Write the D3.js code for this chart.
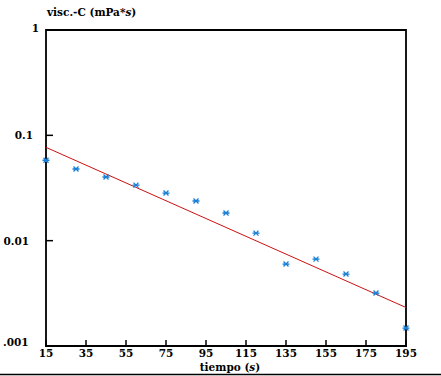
<!DOCTYPE html>
<html><head><meta charset="utf-8">
<script src="https://cdn.jsdelivr.net/npm/d3@7"></script>
<style>body{margin:0;background:#fff}svg{display:block}</style>
</head><body>
<script>
const times = [15,30,45,60,75,90,105,120,135,150,165,180,195];
const visc = [0.058,0.0479,0.0402,0.0337,0.0283,0.0238,0.0183,0.0118,0.0060,0.00668,0.00482,0.00318,0.00148];
const fitX = [15,195];
const fitY = [0.0769,0.00232];
const xTicks = [15,35,55,75,95,115,135,155,175,195];
const yTicks = [1,0.1,0.01,0.001];
const yTickLabels = ["1","0.1","0.01",".001"];

const W=441,H=376;
const FONT="'DejaVu Serif',serif";
const svg=d3.select("body").append("svg").attr("width",W).attr("height",H)
  .attr("font-family",FONT).attr("font-weight","bold");
const x=d3.scaleLinear().domain([15,195]).range([46,406]);
const y=d3.scaleLog().domain([0.001,1]).range([346,30]);

// frame
svg.append("path").attr("d",`M${x(15)},${y(0.001)}V${y(1)}H${x(195)}V${y(0.001)}`)
  .attr("fill","none").attr("stroke","#000").attr("stroke-width",1.8);
svg.append("line").attr("x1",x(15)-1).attr("x2",x(195)+1).attr("y1",y(0.001)).attr("y2",y(0.001)).attr("stroke","#000").attr("stroke-width",1.8);
svg.append("line").attr("x1",0).attr("x2",W).attr("y1",374.5).attr("y2",374.5).attr("stroke","#000").attr("stroke-width",1.5);

// x ticks
const xa=svg.append("g");
xTicks.forEach(t=>{
  xa.append("line").attr("x1",x(t)).attr("x2",x(t)).attr("y1",y(0.001)).attr("y2",y(0.001)-6).attr("stroke","#000").attr("stroke-width",1.5);
  xa.append("text").attr("x",x(t)).attr("y",357).attr("text-anchor","middle").attr("font-size",10.5).text(t);
});
// y ticks
const yLabPos=[39,33,29,3];
const yLabAnchor=["end","end","end","start"];
yTicks.forEach((t,i)=>{
  if(i>0&&i<yTicks.length-1) svg.append("line").attr("x1",x(15)).attr("x2",x(15)+7).attr("y1",y(t)).attr("y2",y(t)).attr("stroke","#000").attr("stroke-width",1.5);
  svg.append("text").attr("x",yLabPos[i]).attr("y",y(t)+(i===0?2:(i===3?0:4))).attr("text-anchor",yLabAnchor[i]).attr("font-size",10.5).text(yTickLabels[i]);
});

// titles
const yt=svg.append("text").attr("x",47).attr("y",16).attr("font-size",10.5);
yt.append("tspan").text("visc.-C (mPa*");
yt.append("tspan").attr("font-style","italic").text("s");
yt.append("tspan").text(")");
const xt=svg.append("text").attr("x",x(105)+4).attr("y",371).attr("text-anchor","middle").attr("font-size",10.5);
xt.append("tspan").text("tiempo (");
xt.append("tspan").attr("font-style","italic").text("s");
xt.append("tspan").text(")");

// fit line
svg.append("path").datum(fitX.map((d,i)=>[d,fitY[i]]))
  .attr("d",d3.line().x(d=>x(d[0])).y(d=>y(d[1])))
  .attr("stroke","#cc1111").attr("stroke-width",1).attr("fill","none");

// markers
const m=svg.append("g").attr("stroke","#1a7fd6").attr("stroke-width",1.3);
times.forEach((t,i)=>{
  const cx=x(t), cy=y(visc[i]);
  m.append("path").attr("d",`M${cx-3.5},${cy}H${cx+3.5}M${cx-2.5},${cy-2.5}L${cx+2.5},${cy+2.5}M${cx-2.5},${cy+2.5}L${cx+2.5},${cy-2.5}`);
});
</script>
</body></html>
